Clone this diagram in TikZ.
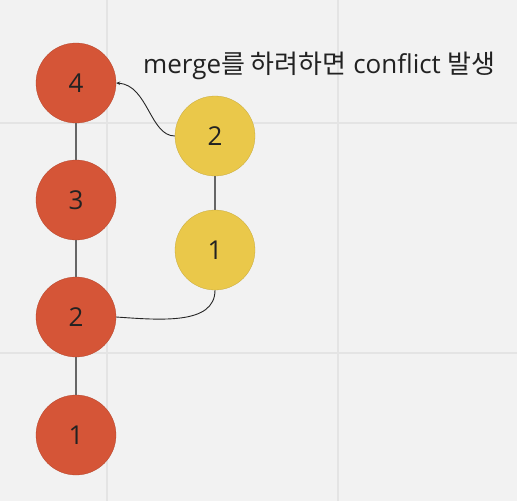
\documentclass[tikz,border=0pt]{standalone}
\usepackage{fontspec}
\setmainfont{Open Sans}
\newfontfamily\kr{Noto Sans CJK KR}
\usetikzlibrary{arrows.meta}
\definecolor{bgc}{HTML}{F2F2F2}
\definecolor{gridc}{HTML}{E4E4E4}
\definecolor{redc}{HTML}{D55537}
\definecolor{yelc}{HTML}{EAC84A}
\definecolor{txtc}{HTML}{222222}
\definecolor{linec}{HTML}{666666}
\tikzset{
  commit/.style={circle, minimum size=80pt, inner sep=0pt, draw=#1!85!black, line width=0.3pt, fill=#1, font=\fontsize{26}{30}\selectfont, text=txtc},
  trunk/.style={draw=linec, line width=1.6pt},
  link/.style={draw=black!85, line width=0.9pt},
}
\begin{document}
\begin{tikzpicture}[x=1pt,y=-1pt]
\fill[bgc] (0,0) rectangle (517,501);
\useasboundingbox (0,0) rectangle (517,501);
\draw[gridc, line width=1.2pt] (107,0) -- (107,501) (338,0) -- (338,501) (0,123) -- (517,123) (0,353) -- (517,353);
\node[commit=redc] (r4) at (76,83) {4};
\node[commit=redc] (r3) at (76,200) {3};
\node[commit=redc] (r2) at (76,317) {2};
\node[commit=redc] (r1) at (76,435) {1};
\node[commit=yelc] (y2) at (215,136) {2};
\node[commit=yelc] (y1) at (215,250) {1};
\draw[trunk] (r4) -- (r3);
\draw[trunk] (r3) -- (r2);
\draw[trunk] (r2) -- (r1);
\draw[trunk] (y2) -- (y1);
\draw[link] (y1.south) .. controls (215,325) and (160,320) .. (r2.east);
\draw[link, -{Stealth[length=4pt,width=3.5pt]}] (y2.west) .. controls (150,136) and (148,85) .. (r4.east);
\node[anchor=base west, inner sep=0pt, font=\fontsize{26}{30}\selectfont, text=txtc] (lbl) at (143,73) {merge{\kr 를 하려하면} conflict {\kr 발생}};
\end{tikzpicture}
\end{document}
